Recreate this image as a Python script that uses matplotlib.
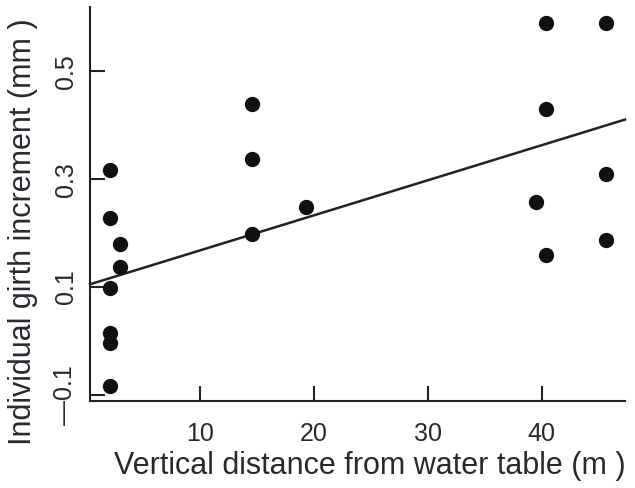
import matplotlib
matplotlib.use("Agg")
import matplotlib.pyplot as plt
import numpy as np

# Data
distance = [2.1, 2.1, 2.1, 2.1, 2.1, 2.1, 3.0, 3.0,
            14.6, 14.6, 14.6, 19.3,
            39.5, 40.4, 40.4, 40.4,
            45.6, 45.6, 45.6]
girth = [0.317, 0.228, 0.098, 0.015, -0.004, -0.083, 0.180, 0.137,
         0.439, 0.337, 0.198, 0.248,
         0.257, 0.589, 0.430, 0.159,
         0.589, 0.309, 0.187]

fit_intercept = 0.103
fit_slope = 0.0065

xticks = [10, 20, 30, 40]
yticks = [-0.1, 0.1, 0.3, 0.5]
yticklabels = ["\u20140.1", "0.1", "0.3", "0.5"]

plt.rcParams['font.family'] = ['Liberation Sans', 'DejaVu Sans']
txt_color = '#262a30'

fig = plt.figure(figsize=(6.35, 4.88), dpi=100)
ax = fig.add_axes([90/635, 1-401/488, (625-90)/635, (401-7)/488])

xlim = (0.35, 47.3)
ylim = (-0.111, 0.619)
ax.set_xlim(*xlim)
ax.set_ylim(*ylim)

xs = np.array(xlim)
ax.plot(xs, fit_intercept + fit_slope * xs, color='#222222', lw=1.8, zorder=2, clip_on=False)
ax.plot(distance, girth, 'o', color='#111111', markersize=10, zorder=3, clip_on=False)

for s in ['top', 'right']:
    ax.spines[s].set_visible(False)
for s in ['left', 'bottom']:
    ax.spines[s].set_linewidth(1.5)
    ax.spines[s].set_color('#222222')

ax.set_xticks(xticks)
ax.set_xticklabels([str(t) for t in xticks])
ax.set_yticks(yticks)
ax.set_yticklabels(yticklabels, rotation=90, va='center')
ax.tick_params(direction='in', length=11, width=1.5, color='#222222',
               labelsize=18, labelcolor=txt_color)
ax.tick_params(axis='x', pad=15)
ax.tick_params(axis='y', pad=9)

ax.set_xlabel("Vertical distance from water table (m )", fontsize=22,
              color=txt_color, va='center')
ax.set_ylabel("Individual girth increment (mm )", fontsize=22,
              color=txt_color, va='center')
ax.xaxis.set_label_coords((370-90)/535, (401-466)/394)
ax.yaxis.set_label_coords((23-90)/535, (401-232)/394)

fig.savefig("out.png", dpi=100)
